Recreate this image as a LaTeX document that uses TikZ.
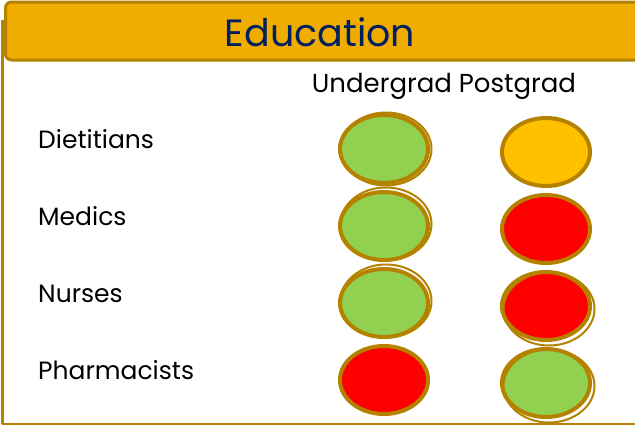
\documentclass[tikz,border=0pt]{standalone}
\usepackage{fontspec}
\setmainfont{Poppins}
\usetikzlibrary{shapes.geometric}
\definecolor{gold}{RGB}{240,173,0}
\definecolor{goldline}{RGB}{181,130,0}
\definecolor{navy}{RGB}{0,32,96}
\definecolor{okgreen}{RGB}{146,208,80}
\definecolor{amber}{RGB}{255,192,0}
\definecolor{alarm}{RGB}{255,0,0}
\begin{document}
\begin{tikzpicture}[x=1pt,y=-1pt]
      \tikzset{
        node distance=77pt,
        every node/.style={inner sep=0pt},
        group/.style={font=\fontsize{25}{25}\selectfont,anchor=base west},
        light/.style={ellipse,draw=goldline,line width=4pt,minimum width=88pt,minimum height=68pt},
        ring/.style={draw=goldline,line width=2pt}
      }
      \useasboundingbox (0,0) rectangle (635,426);

      % frame and banner
      \draw[goldline,line width=3pt] (2,20) -- (2,424);
      \draw[goldline,line width=2pt] (2,424) -- (640,424);
      \node[draw=goldline,fill=gold,line width=3pt,rounded corners=6pt,
            minimum width=660pt,minimum height=58pt,anchor=west] (banner) at (4,31) {};
      \node[font=\fontsize{38}{38}\selectfont,text=navy] (title) at (320,32) {Education};
      \node[font=\fontsize{26}{26}\selectfont,anchor=base] (cols) at (444,92) {Undergrad Postgrad};

      % row labels
      \node[group] (diet) at (38,148) {Dietitians};
      \node[group] (med) at ([yshift=-77pt]diet.base west) {Medics};
      \node[group] (nurse) at ([yshift=-77pt]med.base west) {Nurses};
      \node[group] (pharm) at ([yshift=-77pt]nurse.base west) {Pharmacists};

      % undergrad
      \node[light,fill=okgreen] (ug1) at (384,149) {};
      \node[light,fill=okgreen,below of=ug1] (ug2) {};
      \node[light,fill=okgreen,below of=ug2] (ug3) {};
      \node[light,fill=alarm,below of=ug3] (ug4) {};

      % postgrad
      \node[light,fill=amber] (pg1) at (546,152) {};
      \node[light,fill=alarm,below of=pg1] (pg2) {};
      \node[light,fill=alarm,below of=pg2] (pg3) {};
      \node[light,fill=okgreen,below of=pg3] (pg4) {};

      % second strokes
      \draw[ring] ([shift={(2,0)}]ug1.center) ellipse (45.5 and 36.5);
      \draw[ring] ([shift={(2,-2)}]ug2.center) ellipse (45.5 and 36.5);
      \draw[ring] ([shift={(2,-2)}]ug3.center) ellipse (45.5 and 36.5);
      \draw[ring] ([shift={(3,3)}]pg3.center) ellipse (45.5 and 36.5);
      \draw[ring] ([shift={(3,3)}]pg4.center) ellipse (45.5 and 36.5);
    \end{tikzpicture}
\end{document}
